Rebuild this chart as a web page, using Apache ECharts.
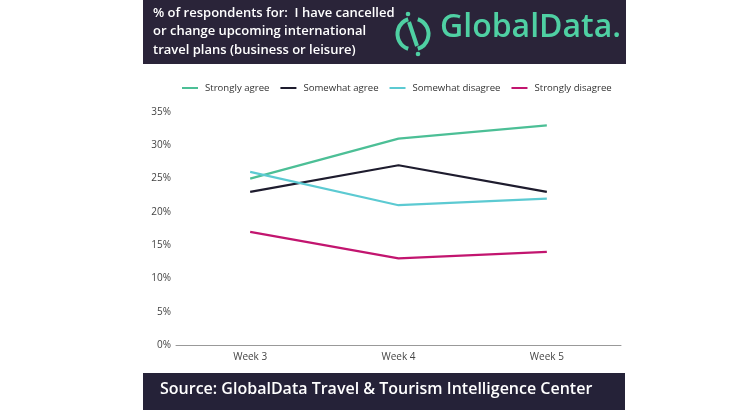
<!DOCTYPE html>
<html>
<head>
<meta charset="utf-8">
<script src="https://cdn.jsdelivr.net/npm/echarts@6/dist/echarts.min.js"></script>
<style>html,body{margin:0;padding:0;background:#fff}#c{width:740px;height:413px}</style>
</head>
<body>
<div id="c"></div>
<script>
var categories = ['Week 3', 'Week 4', 'Week 5'];
var stronglyAgree = [25, 31, 33];
var somewhatAgree = [23, 27, 23];
var somewhatDisagree = [26, 21, 22];
var stronglyDisagree = [17, 13, 14];
var seriesNames = ['Strongly agree', 'Somewhat agree', 'Somewhat disagree', 'Strongly disagree'];
var seriesColors = ['#4cbf96', '#1e1c2e', '#5ccad2', '#c2156f'];
var titleLines = ['% of respondents for:  I have cancelled', 'or change upcoming international', 'travel plans (business or leisure)'];
var sourceText = 'Source: GlobalData Travel & Tourism Intelligence Center';

var chart = echarts.init(document.getElementById('c'));
var dataSets = [stronglyAgree, somewhatAgree, somewhatDisagree, stronglyDisagree];
var font = '"Open Sans", Lato, sans-serif';
var logoColor = '#4fd0a3';
chart.setOption({
  animation: false,
  textStyle: { fontFamily: font },
  legend: {
    top: 78, left: 177,
    itemWidth: 16, itemHeight: 2, itemGap: 11,
    icon: 'rect',
    textStyle: { fontSize: 9.6, color: '#333', fontFamily: font, padding: [0, 0, 0, 2] },
    data: seriesNames
  },
  grid: { left: 176, right: 119, top: 112, bottom: 68 },
  xAxis: {
    type: 'category', data: categories, boundaryGap: true,
    axisLine: { lineStyle: { color: '#999', width: 1 } },
    axisTick: { show: false },
    axisLabel: { fontSize: 10, color: '#444', margin: 7 }
  },
  yAxis: {
    type: 'value', min: 0, max: 35, interval: 5,
    splitLine: { show: false },
    axisLabel: { fontSize: 10, color: '#444', formatter: '{value}%', margin: 5 }
  },
  series: dataSets.map(function (d, i) {
    return {
      name: seriesNames[i], type: 'line', data: d,
      symbol: 'none', lineStyle: { width: 2.2, color: seriesColors[i] },
      itemStyle: { color: seriesColors[i] }
    };
  }),
  graphic: [
    { type: 'rect', shape: { x: 143, y: 0, width: 483, height: 64 }, style: { fill: '#2a2439' }, z: -1 },
    { type: 'text', left: 153, top: 4, style: { text: titleLines.join('\n'), fill: '#fff', font: '600 13px ' + font, lineHeight: 18.5 } },
    { type: 'arc', shape: { cx: 413, cy: 34, r: 15.5, startAngle: Math.PI * 0.6, endAngle: Math.PI * 1.4 }, style: { stroke: logoColor, lineWidth: 4, fill: null } },
    { type: 'arc', shape: { cx: 413, cy: 34, r: 15.5, startAngle: -Math.PI * 0.4, endAngle: Math.PI * 0.4 }, style: { stroke: logoColor, lineWidth: 4, fill: null } },
    { type: 'line', shape: { x1: 409, y1: 22, x2: 417, y2: 46 }, style: { stroke: logoColor, lineWidth: 4 } },
    { type: 'circle', shape: { cx: 408, cy: 14, r: 2.3 }, style: { fill: logoColor } },
    { type: 'circle', shape: { cx: 418, cy: 54, r: 2.3 }, style: { fill: logoColor } },
    { type: 'text', left: 440, top: 12, style: { text: 'GlobalData.', fill: logoColor, font: '600 32px ' + font } },
    { type: 'rect', shape: { x: 143, y: 373, width: 482, height: 37 }, style: { fill: '#252238' }, z: -1 },
    { type: 'text', left: 160, top: 381, style: { text: sourceText, fill: '#fff', font: '600 16px ' + font } }
  ]
});
</script>
</body>
</html>
